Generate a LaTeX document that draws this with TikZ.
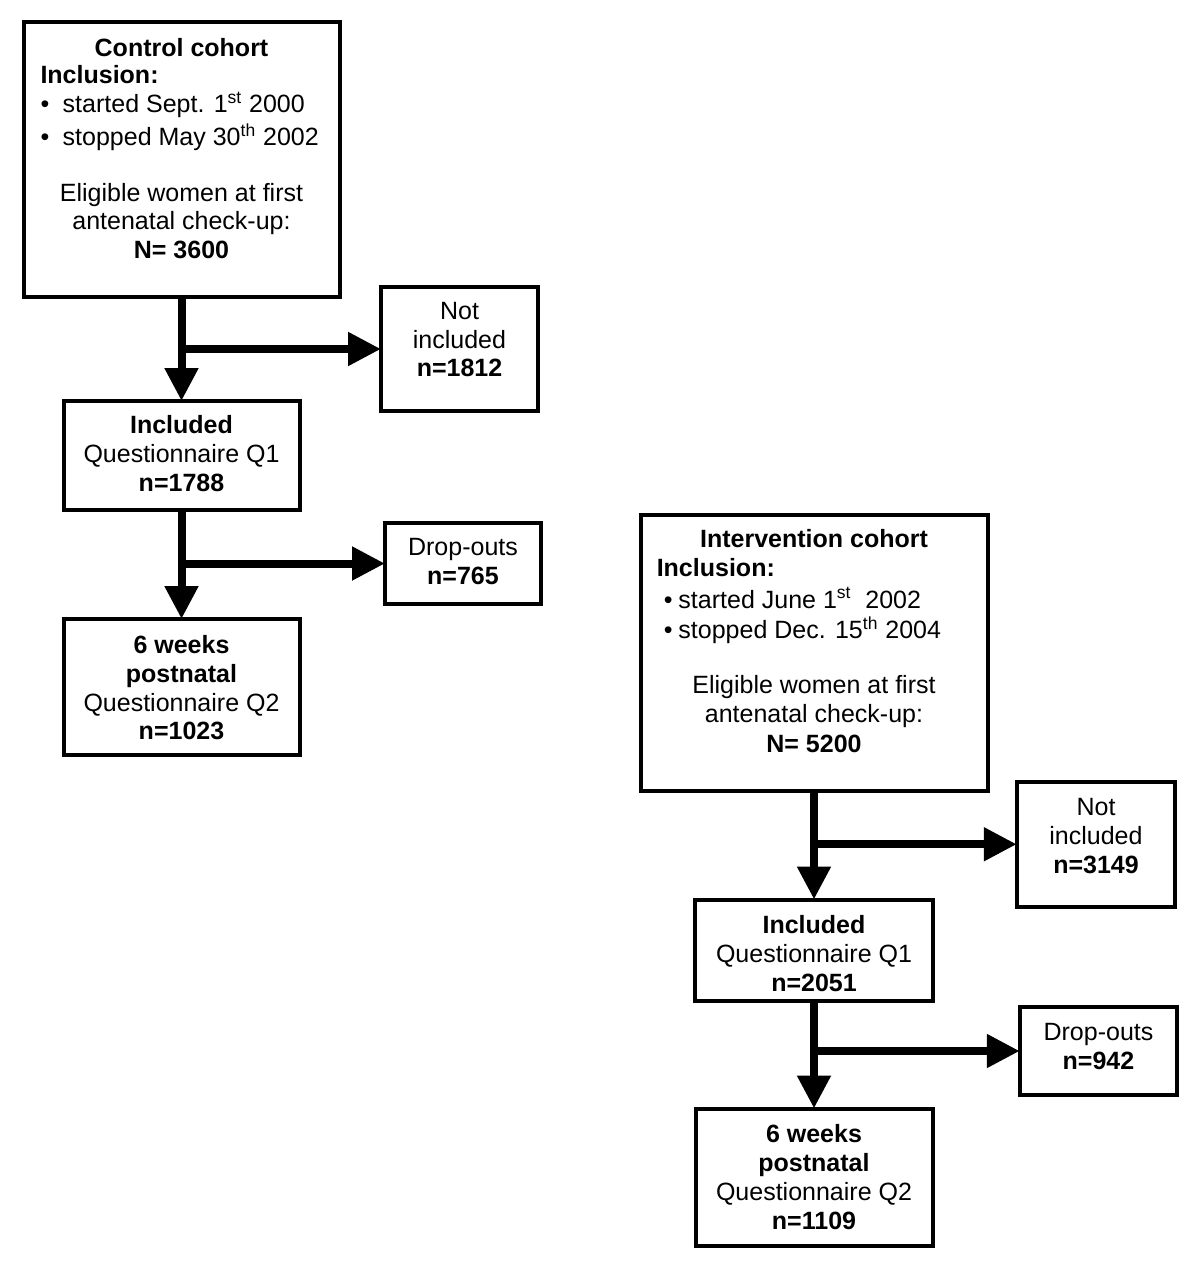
\documentclass[tikz,border=0pt]{standalone}
\usepackage{fontspec}
\setmainfont{Liberation Sans}
\usetikzlibrary{arrows.meta}
\newcommand{\topgap}[1]{\rule{0pt}{#1}}
\newcommand{\botgap}[1]{\rule[-#1]{0pt}{0pt}}

\begin{document}
\begin{tikzpicture}[font=\fontsize{14.23}{16.5}\selectfont,
	box/.style={draw,line width=0.08cm,anchor=north,align=center,inner sep=0pt,outer sep=0pt},
	flow/.style={line width=0.16cm},
	>={Triangle[length=0.66cm,width=0.64cm]}]
	\useasboundingbox (0,0) rectangle (24,-25.42);
	% control cohort
	\node[box,minimum width=6.32cm] (ctrl) at (3.63,-0.44) {\topgap{0.68cm}\textbf{Control cohort}\\[-0.04cm]
		\makebox[5.64cm][l]{\textbf{Inclusion:}}\\[0.02cm]
		\makebox[5.64cm][l]{\textbullet\hspace{0.27cm}started Sept. 1\textsuperscript{st} 2000}\\[0.08cm]
		\makebox[5.64cm][l]{\textbullet\hspace{0.27cm}stopped May 30\textsuperscript{th} 2002}\\[0.54cm]
		Eligible women at first\\[-0.02cm]
		antenatal check-up:\\
		\textbf{N= 3600}\botgap{0.77cm}}; %control
	\node[box,minimum width=3.14cm] (notinc1) at (9.19,-5.74) {\topgap{0.64cm}Not\\ included\\ \textbf{n=1812}\botgap{0.68cm}};
	\node[box,minimum width=4.72cm] (incl1) at (3.63,-8.02) {\topgap{0.64cm}\textbf{Included}\\ Questionnaire Q1\\ \textbf{n=1788}\botgap{0.38cm}};
	\node[box,minimum width=3.12cm] (drop1) at (9.26,-10.46) {\topgap{0.64cm}Drop-outs\\ \textbf{n=765}\botgap{0.40cm}};
	\node[box,minimum width=4.72cm] (six1) at (3.63,-12.38) {\topgap{0.68cm}\textbf{6 weeks}\\ \textbf{postnatal}\\ Questionnaire Q2\\ \textbf{n=1023}\botgap{0.31cm}};
	% intervention cohort
	\node[box,minimum width=6.94cm] (intv) at (16.28,-10.30) {\topgap{0.64cm}\textbf{Intervention cohort}\\
		\makebox[6.29cm][l]{\textbf{Inclusion:}}\\[0.06cm]
		\makebox[6.29cm][l]{\hspace{0.14cm}\textbullet\hspace{0.12cm}started June 1\textsuperscript{st}\ \ 2002}\\[0.04cm]
		\makebox[6.29cm][l]{\hspace{0.14cm}\textbullet\hspace{0.12cm}stopped Dec. 15\textsuperscript{th} 2004}\\[0.52cm]
		Eligible women at first\\
		antenatal check-up:\\[0.02cm]
		\textbf{N= 5200}\botgap{0.77cm}}; %intervention
	\node[box,minimum width=3.17cm] (notinc2) at (21.92,-15.63) {\topgap{0.67cm}Not\\ included\\ \textbf{n=3149}\botgap{0.68cm}};
	\node[box,minimum width=4.76cm] (incl2) at (16.28,-17.99) {\topgap{0.67cm}\textbf{Included}\\ Questionnaire Q1\\ \textbf{n=2051}\botgap{0.19cm}};
	\node[box,minimum width=3.15cm] (drop2) at (21.97,-20.14) {\topgap{0.66cm}Drop-outs\\ \textbf{n=942}\botgap{0.52cm}};
	\node[box,minimum width=4.74cm] (six2) at (16.28,-22.17) {\topgap{0.67cm}\textbf{6 weeks}\\ \textbf{postnatal}\\ Questionnaire Q2\\ \textbf{n=1109}\botgap{0.34cm}};
	% arrows
	\draw[flow,->] (ctrl.south) -- (incl1.north);
	\draw[flow,->] (ctrl.south |- notinc1.west) -- (notinc1.west);
	\draw[flow,->] (incl1.south) -- (six1.north);
	\draw[flow,->] (incl1.south |- drop1.west) -- (drop1.west);
	\draw[flow,->] (intv.south) -- (incl2.north);
	\draw[flow,->] (intv.south |- notinc2.west) -- (notinc2.west);
	\draw[flow,->] (incl2.south) -- (six2.north);
	\draw[flow,->] (incl2.south |- drop2.west) -- (drop2.west);
\end{tikzpicture}
\end{document}
